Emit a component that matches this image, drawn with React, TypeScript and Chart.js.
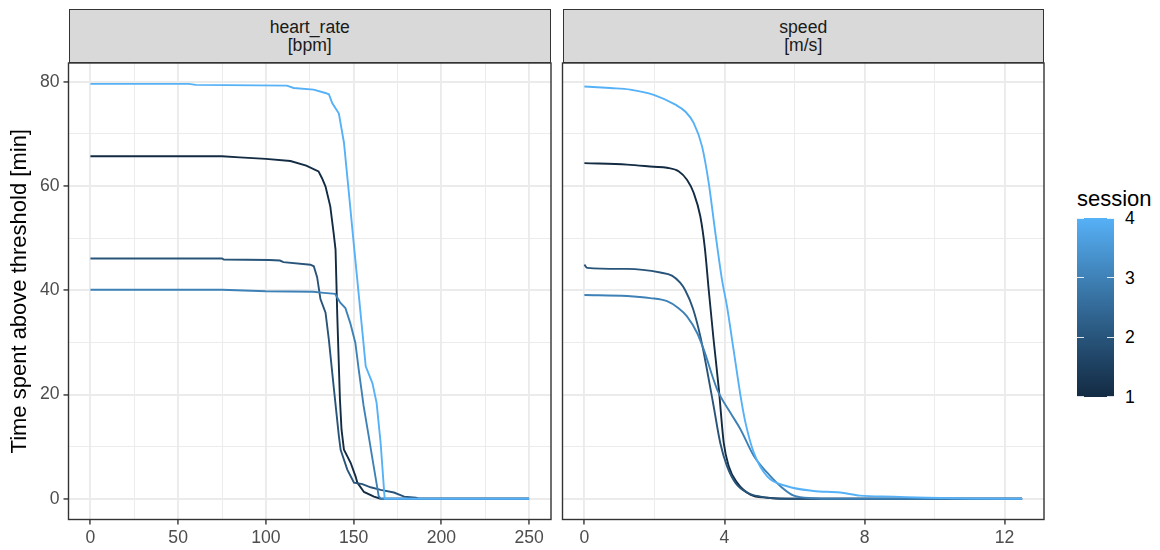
import React, { useEffect, useRef } from 'react';
import { Chart, registerables } from 'chart.js';

Chart.register(...registerables);

// ---------- data ----------
const SESSIONS = [1, 2, 3, 4];

// heart_rate panel: [threshold bpm, minutes above threshold]
const HR_S1: [number, number][] = [
  [0, 65.7], [75, 65.7], [85, 65.5], [100, 65.2], [114, 64.8], [123, 63.9], [130, 62.8],
  [132, 61.5], [134, 59.9], [136.7, 56.1], [138.6, 51], [139.7, 47.8], [140.7, 35],
  [142.2, 19.1], [143.1, 13.3], [144.5, 9.4], [148.3, 6.9], [151.1, 4.3], [152.1, 3.1],
  [155.9, 1.3], [161.6, 0.4], [165.4, 0], [250, 0],
];
const HR_S2: [number, number][] = [
  [0, 46.1], [75, 46.1], [76, 45.9], [102, 45.8], [108, 45.7], [110, 45.4], [125.4, 44.9],
  [127.3, 44.6], [129.2, 42.5], [131.1, 38.3], [134, 35.7], [135.9, 30.5], [138.8, 21],
  [141.6, 12], [142.6, 9.4], [146.4, 5.6], [150.2, 3.1], [155, 2.8], [159.7, 2.2],
  [165.4, 1.7], [173, 1.2], [178.8, 0.4], [185.5, 0.2], [187, 0], [250, 0],
];
const HR_S3: [number, number][] = [
  [0, 40.1], [75, 40.1], [100, 39.8], [127, 39.7], [133, 39.5], [139.5, 39.3], [142.4, 37.6],
  [145.3, 36.6], [148.1, 33.7], [151, 29.9], [152.9, 24.8], [155.7, 17.8], [158.6, 12],
  [161.4, 6.3], [164.3, 0.5], [165.5, 0], [250, 0],
];
const HR_S4: [number, number][] = [
  [0, 79.6], [56, 79.6], [60, 79.4], [112, 79.25], [115.8, 78.8], [127.2, 78.5], [133.9, 77.85],
  [135.9, 77.6], [137.8, 75.9], [141.6, 73.9], [144.5, 68.3], [147.3, 58.7], [150.2, 48.5],
  [153, 38.9], [155, 32], [156.9, 25.4], [160.7, 22.2], [163.1, 18.4], [165.4, 10.7],
  [167.7, 0], [250, 0],
];

// speed panel: [threshold m/s, minutes above threshold]
const SP_S1: [number, number][] = [
  [0, 64.4], [1.22, 64.1], [1.98, 63.7], [2.36, 63.5], [2.7, 62.8], [2.93, 61.2], [3.12, 58.7],
  [3.31, 54.2], [3.44, 48.1], [3.55, 40.1], [3.69, 30.5], [3.84, 21], [3.98, 10.7],
  [4.12, 6.3], [4.36, 3.1], [4.74, 0.8], [5.22, 0.2], [5.8, 0], [12.5, 0],
];
const SP_S2: [number, number][] = [
  [0, 44.9], [0.08, 44.3], [1.22, 44.1], [2.17, 43.4], [2.5, 42.8], [2.74, 41.4], [2.88, 40],
  [3.1, 36.5], [3.31, 31.2], [3.5, 24.8], [3.69, 17.8], [3.88, 10.7], [4.07, 6.3],
  [4.31, 3.1], [4.64, 1.2], [5.03, 0.4], [5.6, 0], [12.5, 0],
];
const SP_S3: [number, number][] = [
  [0, 39.1], [1.22, 38.9], [1.88, 38.5], [2.36, 37.9], [2.68, 36.6], [2.93, 35], [3.22, 31.8],
  [3.41, 28.6], [3.79, 21], [4.17, 16.5], [4.46, 13.3], [4.84, 8.2], [5.22, 5], [5.6, 2.4],
  [5.98, 0.6], [6.55, 0.1], [7, 0], [12.5, 0],
];
const SP_S4: [number, number][] = [
  [0, 79.1], [0.74, 78.8], [1.31, 78.5], [1.98, 77.5], [2.6, 75.6], [2.88, 74.3], [3.12, 72.1],
  [3.36, 67.6], [3.55, 60.6], [3.74, 51], [3.93, 42], [4.07, 37], [4.26, 28.6], [4.46, 19.7],
  [4.6, 14.6], [4.84, 8.8], [5.22, 4.3], [5.79, 2.4], [6.54, 1.5], [7.3, 1.2], [7.87, 0.6],
  [8.82, 0.4], [9.78, 0.2], [11, 0.05], [12.5, 0],
];

const HR_X_TICKS = [0, 25, 50, 75, 100, 125, 150, 175, 200, 225, 250];
const HR_X_LABELS = [0, 50, 100, 150, 200, 250];
const SP_X_TICKS = [0, 2, 4, 6, 8, 10, 12];
const SP_X_LABELS = [0, 4, 8, 12];
const Y_TICKS = [0, 10, 20, 30, 40, 50, 60, 70, 80];
const Y_LABELS = [0, 20, 40, 60, 80];
const LEGEND_TICKS = [1, 2, 3, 4];

const STRIP_LEFT = ['heart_rate', '[bpm]'];
const STRIP_RIGHT = ['speed', '[m/s]'];
const Y_TITLE = 'Time spent above threshold [min]';
const LEGEND_TITLE = 'session';

// ---------- colour scale (ggplot2 default continuous, Lab interpolation) ----------
const LOW = '#132B43';
const HIGH = '#56B1F7';
const Xn = 0.95047, Yn = 1.0, Zn = 1.08883;
const toLin = (c: number) => { c /= 255; return c <= 0.04045 ? c / 12.92 : Math.pow((c + 0.055) / 1.055, 2.4); };
const fromLin = (c: number) => {
  const v = c <= 0.0031308 ? 12.92 * c : 1.055 * Math.pow(c, 1 / 2.4) - 0.055;
  return Math.round(Math.max(0, Math.min(1, v)) * 255);
};
const fl = (t: number) => (t > 0.008856 ? Math.cbrt(t) : 7.787 * t + 16 / 116);
const fi = (t: number) => (t > 0.206893 ? t * t * t : (t - 16 / 116) / 7.787);
function hexToLab(hex: string) {
  const r = toLin(parseInt(hex.slice(1, 3), 16));
  const g = toLin(parseInt(hex.slice(3, 5), 16));
  const b = toLin(parseInt(hex.slice(5, 7), 16));
  const X = 0.4124 * r + 0.3576 * g + 0.1805 * b;
  const Y = 0.2126 * r + 0.7152 * g + 0.0722 * b;
  const Z = 0.0193 * r + 0.1192 * g + 0.9505 * b;
  return [116 * fl(Y / Yn) - 16, 500 * (fl(X / Xn) - fl(Y / Yn)), 200 * (fl(Y / Yn) - fl(Z / Zn))];
}
function labToHex(L: number, a: number, bb: number) {
  const fy = (L + 16) / 116, fx = fy + a / 500, fz = fy - bb / 200;
  const X = Xn * fi(fx), Y = Yn * fi(fy), Z = Zn * fi(fz);
  const r = 3.2406 * X - 1.5372 * Y - 0.4986 * Z;
  const g = -0.9689 * X + 1.8758 * Y + 0.0415 * Z;
  const b = 0.0557 * X - 0.204 * Y + 1.057 * Z;
  const h = (n: number) => fromLin(n).toString(16).padStart(2, '0');
  return '#' + h(r) + h(g) + h(b);
}
const LAB_LOW = hexToLab(LOW);
const LAB_HIGH = hexToLab(HIGH);
function scaleColor(t: number) {
  return labToHex(
    LAB_LOW[0] + (LAB_HIGH[0] - LAB_LOW[0]) * t,
    LAB_LOW[1] + (LAB_HIGH[1] - LAB_LOW[1]) * t,
    LAB_LOW[2] + (LAB_HIGH[2] - LAB_LOW[2]) * t,
  );
}
const sessionColor = (s: number) => scaleColor((s - 1) / 3);

// ---------- styling ----------
const FONT_FAMILY = '"Liberation Sans", Arial, Helvetica, sans-serif';
const TICK_FONT = { family: FONT_FAMILY, size: 17.6 };
const TITLE_FONT = { family: FONT_FAMILY, size: 22 };
const GRID = '#EBEBEB';
const DARK = '#333333';
const TICK_TEXT = '#4D4D4D';

const panelBorder = {
  id: 'panelBorder',
  afterDraw(chart: any) {
    const { ctx, chartArea } = chart;
    ctx.save();
    ctx.strokeStyle = DARK;
    ctx.lineWidth = 1.4;
    ctx.strokeRect(chartArea.left, chartArea.top, chartArea.right - chartArea.left, chartArea.bottom - chartArea.top);
    ctx.restore();
  },
};

function makeDatasets(series: [number, number][][], smooth: boolean) {
  return series.map((pts, i) => ({
    label: 'session ' + SESSIONS[i],
    data: pts.map(([x, y]) => ({ x, y })),
    borderColor: sessionColor(SESSIONS[i]),
    backgroundColor: sessionColor(SESSIONS[i]),
    borderWidth: 1.9,
    pointRadius: 0,
    fill: false,
    order: 4 - SESSIONS[i],
    cubicInterpolationMode: smooth ? ('monotone' as const) : ('default' as const),
    tension: 0,
  }));
}

function xScale(min: number, max: number, all: number[], labeled: number[]) {
  return {
    type: 'linear' as const,
    min,
    max,
    afterBuildTicks: (s: any) => { s.ticks = all.map((v) => ({ value: v })); },
    afterFit: (s: any) => { s.height = 30.5; s.paddingLeft = 0; s.paddingRight = 0; },
    ticks: {
      autoSkip: false,
      maxRotation: 0,
      color: TICK_TEXT,
      font: TICK_FONT,
      padding: 3,
      callback: (v: any) => (labeled.includes(Number(v)) ? String(v) : ''),
    },
    grid: {
      color: GRID,
      lineWidth: (c: any) => (c.tick && labeled.includes(c.tick.value) ? 1.9 : 0.95),
      tickColor: (c: any) => (c.tick && labeled.includes(c.tick.value) ? DARK : 'rgba(0,0,0,0)'),
      tickLength: 5,
      tickWidth: 1.4,
    },
    border: { display: false },
  };
}

function yScale(showLabels: boolean) {
  return {
    type: 'linear' as const,
    min: -3.98,
    max: 83.6,
    afterBuildTicks: (s: any) => { s.ticks = Y_TICKS.map((v) => ({ value: v })); },
    afterFit: (s: any) => { s.width = showLabels ? 68.5 : 0; s.paddingTop = 0; s.paddingBottom = 0; },
    ticks: {
      display: showLabels,
      autoSkip: false,
      color: TICK_TEXT,
      font: TICK_FONT,
      padding: 4,
      callback: (v: any) => (Y_LABELS.includes(Number(v)) ? String(v) : ''),
    },
    grid: {
      color: GRID,
      lineWidth: (c: any) => (c.tick && Y_LABELS.includes(c.tick.value) ? 1.9 : 0.95),
      tickColor: (c: any) => (showLabels && c.tick && Y_LABELS.includes(c.tick.value) ? DARK : 'rgba(0,0,0,0)'),
      tickLength: showLabels ? 5 : 0,
      drawTicks: showLabels,
      tickWidth: 1.4,
    },
    border: { display: false },
    title: {
      display: showLabels,
      text: Y_TITLE,
      color: '#000000',
      font: TITLE_FONT,
      padding: { top: 7, bottom: 0 },
    },
  };
}

function PanelChart(props: {
  series: [number, number][][];
  smooth: boolean;
  xMin: number; xMax: number; xAll: number[]; xLabeled: number[];
  showY: boolean;
  left: number; width: number; padLeft: number; padRight: number;
}) {
  const ref = useRef<HTMLCanvasElement>(null);
  useEffect(() => {
    if (!ref.current) return;
    const chart = new Chart(ref.current, {
      type: 'line',
      data: { datasets: makeDatasets(props.series, props.smooth) as any },
      options: {
        animation: false,
        responsive: false,
        devicePixelRatio: 1,
        layout: { padding: { left: props.padLeft, right: props.padRight, top: 8, bottom: 0 } },
        plugins: { legend: { display: false }, tooltip: { enabled: false } },
        scales: {
          x: xScale(props.xMin, props.xMax, props.xAll, props.xLabeled) as any,
          y: yScale(props.showY) as any,
        },
      },
      plugins: [panelBorder],
    });
    return () => chart.destroy();
  }, []);
  return (
    <canvas
      ref={ref}
      width={props.width}
      height={495}
      style={{ position: 'absolute', left: props.left, top: 55, width: props.width, height: 495 }}
    />
  );
}

function Strip(props: { left: number; width: number; lines: string[] }) {
  return (
    <div
      style={{
        position: 'absolute', left: props.left, top: 8.5, width: props.width, height: 54.5,
        boxSizing: 'border-box', background: '#D9D9D9', border: '1.4px solid ' + DARK,
        display: 'flex', flexDirection: 'column', alignItems: 'center', justifyContent: 'center',
        fontFamily: FONT_FAMILY, fontSize: 17.6, lineHeight: '18px', color: '#1A1A1A',
      }}
    >
      {props.lines.map((l) => <div key={l}>{l}</div>)}
    </div>
  );
}

function ColorBar() {
  const top = 218.3, bottom = 396.7, left = 1077, width = 37;
  const stops = Array.from({ length: 11 }, (_, i) => `${scaleColor(i / 10)} ${i * 10}%`).join(', ');
  const yOf = (v: number) => bottom - ((v - 1) / 3) * (bottom - top);
  return (
    <>
      <div style={{ position: 'absolute', left, top: 188, fontFamily: FONT_FAMILY, fontSize: 22, lineHeight: '22px', color: '#000' }}>
        {LEGEND_TITLE}
      </div>
      <div style={{ position: 'absolute', left, top, width, height: bottom - top, background: `linear-gradient(to top, ${stops})` }} />
      {LEGEND_TICKS.map((v) => (
        <React.Fragment key={v}>
          <div style={{ position: 'absolute', left, top: yOf(v) - 0.6, width: 7.4, height: 1.2, background: 'rgba(255,255,255,0.85)' }} />
          <div style={{ position: 'absolute', left: left + width - 7.4, top: yOf(v) - 0.6, width: 7.4, height: 1.2, background: 'rgba(255,255,255,0.85)' }} />
          <div style={{ position: 'absolute', left: 1125, top: yOf(v) - 8, fontFamily: FONT_FAMILY, fontSize: 17.6, lineHeight: '17.6px', color: '#000' }}>
            {String(v)}
          </div>
        </React.Fragment>
      ))}
    </>
  );
}

export default function App() {
  return (
    <div style={{ position: 'fixed', left: 0, top: 0, width: 1160, height: 550, background: '#FFFFFF', overflow: 'hidden' }}>
      <PanelChart
        series={[HR_S1, HR_S2, HR_S3, HR_S4]} smooth={false}
        xMin={-12.5} xMax={262.5} xAll={HR_X_TICKS} xLabeled={HR_X_LABELS}
        showY={true} left={0} width={556} padLeft={0} padRight={5}
      />
      <PanelChart
        series={[SP_S1, SP_S2, SP_S3, SP_S4]} smooth={true}
        xMin={-0.625} xMax={13.125} xAll={SP_X_TICKS} xLabeled={SP_X_LABELS}
        showY={false} left={556} width={494} padLeft={6.5} padRight={6}
      />
      <Strip left={68.5} width={482.5} lines={STRIP_LEFT} />
      <Strip left={562.5} width={481.5} lines={STRIP_RIGHT} />
      <ColorBar />
    </div>
  );
}
